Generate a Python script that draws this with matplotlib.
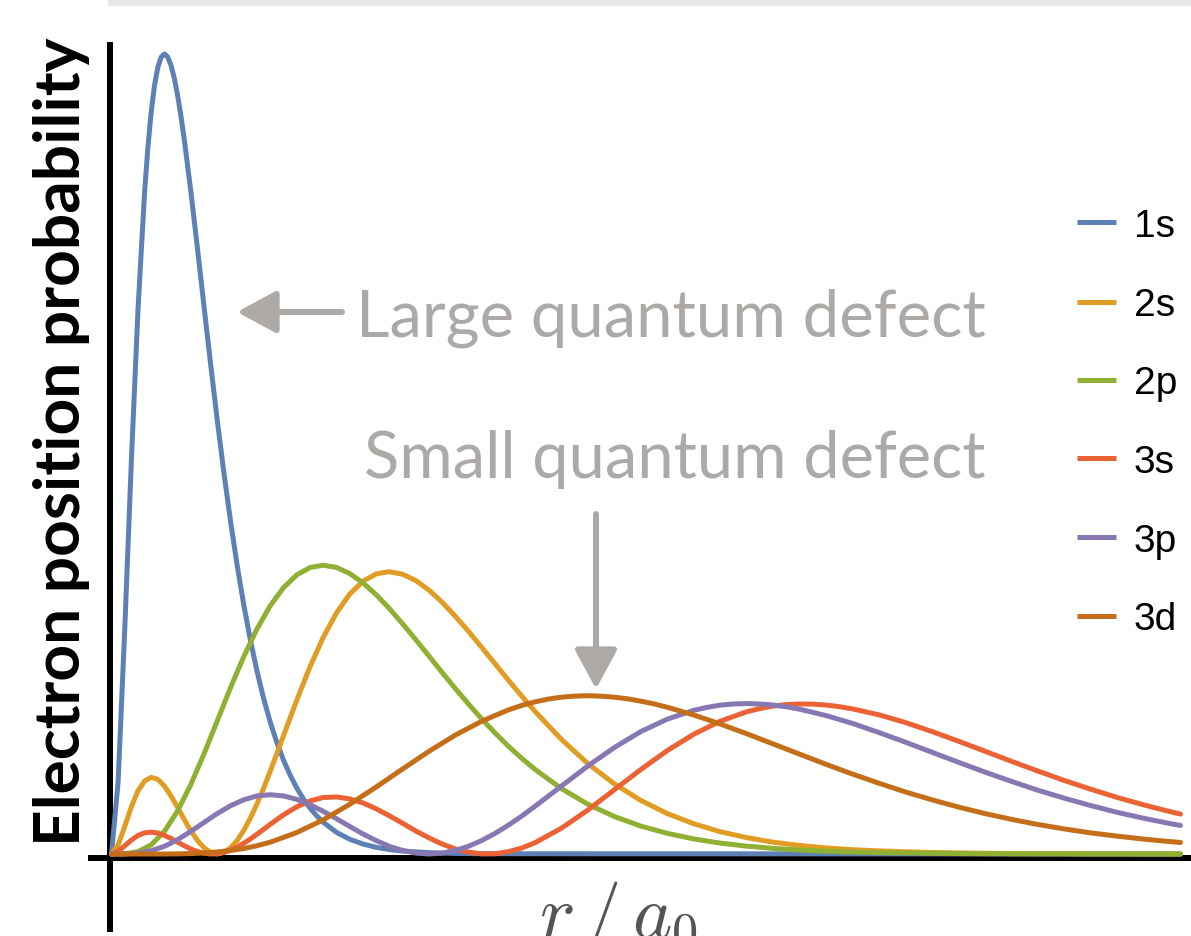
import matplotlib
matplotlib.use("Agg")
import matplotlib.pyplot as plt

# ---------------- data ----------------
labels = ["1s", "2s", "2p", "3s", "3p", "3d"]
colors = ["#5E81B5", "#E19C24", "#8FB032", "#EB6235", "#8778B3", "#C56E1A"]

r_1s = [0, 0.125, 0.25, 0.375, 0.5, 0.625, 0.6875, 0.75, 0.8125, 0.875, 0.9375,
        1.0, 1.0625, 1.125, 1.1875, 1.25, 1.3125, 1.375, 1.5, 1.625, 1.75, 1.875,
        2.0, 2.125, 2.25, 2.375, 2.5, 2.625, 2.75, 2.875, 3.0, 3.125, 3.25, 3.375,
        3.5, 3.625, 3.75, 3.875, 4.0, 4.25, 4.5, 4.75, 5.0, 5.25, 5.5, 6.0, 6.5,
        7.0, 20.2]
p_1s = [0, 0.0487, 0.1516, 0.2657, 0.3679, 0.4477, 0.4780, 0.5020, 0.5200, 0.5322,
        0.5391, 0.5413, 0.5393, 0.5336, 0.5247, 0.5131, 0.4992, 0.4835, 0.4481,
        0.4095, 0.3700, 0.3308, 0.2931, 0.2576, 0.2250, 0.1952, 0.1684, 0.1447,
        0.1236, 0.1052, 0.0892, 0.0754, 0.0635, 0.0534, 0.0447, 0.0373, 0.0311,
        0.0259, 0.0215, 0.0147, 0.0100, 0.0068, 0.0045, 0.0030, 0.0020, 0.0009,
        0.0004, 0.0002, 0.0]

r_2s = [0, 0.125, 0.25, 0.375, 0.5, 0.625, 0.75, 0.875, 1.0, 1.125, 1.25, 1.375,
        1.5, 1.625, 1.75, 1.875, 2.0, 2.125, 2.25, 2.375, 2.5, 2.625, 2.75, 2.875,
        3.0, 3.25, 3.5, 3.75, 4.0, 4.25, 4.5, 4.75, 5.0, 5.25, 5.5, 5.75, 6.0,
        6.25, 6.5, 6.75, 7.0, 7.25, 7.5, 7.75, 8.0, 8.5, 9.0, 9.5, 10.0, 10.5,
        11.0, 11.5, 12.0, 12.5, 13.0, 13.5, 14.0, 14.5, 15.0, 15.5, 16.0, 16.5,
        17.0, 17.5, 18.0, 18.5, 19.0, 19.5, 20.0, 20.2]
p_2s = [0, 0.0061, 0.0186, 0.0319, 0.0427, 0.0494, 0.0519, 0.0505, 0.0460, 0.0393,
        0.0315, 0.0233, 0.0157, 0.0091, 0.0042, 0.0011, 0.0, 0.0011, 0.0042, 0.0092,
        0.0160, 0.0244, 0.0340, 0.0446, 0.0560, 0.0800, 0.1040, 0.1266, 0.1465,
        0.1630, 0.1758, 0.1845, 0.1895, 0.1910, 0.1893, 0.1850, 0.1785, 0.1703,
        0.1607, 0.1505, 0.1396, 0.1286, 0.1176, 0.1069, 0.0966, 0.0776, 0.0612,
        0.0475, 0.0363, 0.0274, 0.0205, 0.0151, 0.0111, 0.0080, 0.0058, 0.0041,
        0.0029, 0.0021, 0.0015, 0.0010, 0.0007, 0.0005, 0.0003, 0.0002, 0.0002,
        0.0001, 0.0001, 0.0, 0.0, 0.0]

r_2p = [0, 0.25, 0.5, 0.75, 1.0, 1.25, 1.5, 1.75, 2.0, 2.25, 2.5, 2.75, 3.0,
        3.25, 3.5, 3.75, 4.0, 4.25, 4.5, 4.75, 5.0, 5.25, 5.5, 5.75, 6.0, 6.25,
        6.5, 6.75, 7.0, 7.25, 7.5, 7.75, 8.0, 8.5, 9.0, 9.5, 10.0, 10.5, 11.0,
        11.5, 12.0, 12.5, 13.0, 13.5, 14.0, 14.5, 15.0, 15.5, 16.0, 16.5, 17.0,
        17.5, 18.0, 18.5, 19.0, 19.5, 20.0, 20.2]
p_2p = [0, 0.0001, 0.0016, 0.0062, 0.0153, 0.0292, 0.0471, 0.0679, 0.0902, 0.1126,
        0.1336, 0.1523, 0.1680, 0.1802, 0.1888, 0.1938, 0.1954, 0.1939, 0.1898,
        0.1835, 0.1755, 0.1661, 0.1558, 0.1450, 0.1339, 0.1227, 0.1118, 0.1013,
        0.0912, 0.0818, 0.0729, 0.0648, 0.0573, 0.0443, 0.0337, 0.0254, 0.0189,
        0.0140, 0.0102, 0.0074, 0.0053, 0.0038, 0.0027, 0.0019, 0.0013, 0.0009,
        0.0007, 0.0005, 0.0003, 0.0002, 0.0001, 0.0001, 0.0001, 0.0, 0.0, 0.0,
        0.0, 0.0]

r_3s = [0, 0.125, 0.25, 0.375, 0.5, 0.625, 0.75, 0.875, 1.0, 1.125, 1.25, 1.375,
        1.5, 1.625, 1.75, 1.875, 2.0, 2.125, 2.25, 2.375, 2.5, 2.625, 2.75, 2.875,
        3.0, 3.25, 3.5, 3.75, 4.0, 4.25, 4.5, 4.75, 5.0, 5.25, 5.5, 5.75, 6.0,
        6.25, 6.5, 6.75, 7.0, 7.25, 7.5, 7.75, 8.0, 8.5, 9.0, 9.5, 10.0, 10.5,
        11.0, 11.5, 12.0, 12.25, 12.5, 12.75, 13.0, 13.25, 13.5, 13.75, 14.0, 14.5,
        15.0, 15.5, 16.0, 16.5, 17.0, 17.5, 18.0, 18.5, 19.0, 19.5, 20.0, 20.2]
p_3s = [0, 0.0018, 0.0055, 0.0094, 0.0125, 0.0143, 0.0148, 0.0142, 0.0126, 0.0105,
        0.0080, 0.0056, 0.0034, 0.0017, 0.0005, 0.0000, 0.0002, 0.0011, 0.0026,
        0.0047, 0.0073, 0.0102, 0.0134, 0.0167, 0.0201, 0.0265, 0.0319, 0.0359,
        0.0382, 0.0386, 0.0373, 0.0346, 0.0306, 0.0259, 0.0208, 0.0156, 0.0109,
        0.0067, 0.0034, 0.0012, 0.0001, 0.0002, 0.0016, 0.0040, 0.0076, 0.0174,
        0.0297, 0.0434, 0.0571, 0.0699, 0.0810, 0.0898, 0.0962, 0.0984, 0.1001,
        0.1011, 0.1015, 0.1014, 0.1008, 0.0997, 0.0982, 0.0942, 0.0890, 0.0829,
        0.0764, 0.0696, 0.0628, 0.0562, 0.0498, 0.0439, 0.0383, 0.0333, 0.0287,
        0.0270]

r_3p = [0, 0.25, 0.5, 0.75, 1.0, 1.25, 1.5, 1.75, 2.0, 2.25, 2.5, 2.75, 3.0,
        3.25, 3.5, 3.75, 4.0, 4.25, 4.5, 4.75, 5.0, 5.25, 5.5, 5.75, 6.0, 6.25,
        6.5, 6.75, 7.0, 7.25, 7.5, 7.75, 8.0, 8.5, 9.0, 9.5, 10.0, 10.5, 11.0,
        11.25, 11.5, 11.75, 12.0, 12.25, 12.5, 12.75, 13.0, 13.5, 14.0, 14.5,
        15.0, 15.5, 16.0, 16.5, 17.0, 17.5, 18.0, 18.5, 19.0, 19.5, 20.0, 20.2]
p_3p = [0, 0.0000, 0.0006, 0.0022, 0.0052, 0.0097, 0.0153, 0.0214, 0.0274, 0.0327,
        0.0367, 0.0393, 0.0401, 0.0393, 0.0370, 0.0334, 0.0289, 0.0239, 0.0187,
        0.0136, 0.0091, 0.0052, 0.0024, 0.0006, 0.0, 0.0006, 0.0024, 0.0053,
        0.0092, 0.0140, 0.0195, 0.0256, 0.0322, 0.0459, 0.0595, 0.0720, 0.0828,
        0.0912, 0.0972, 0.0992, 0.1007, 0.1015, 0.1018, 0.1015, 0.1008, 0.0996,
        0.0980, 0.0937, 0.0884, 0.0822, 0.0757, 0.0689, 0.0621, 0.0555, 0.0492,
        0.0432, 0.0378, 0.0328, 0.0282, 0.0242, 0.0206, 0.0193]

r_3d = [0, 0.25, 0.5, 0.75, 1.0, 1.25, 1.5, 1.75, 2.0, 2.25, 2.5, 2.75, 3.0,
        3.5, 4.0, 4.5, 5.0, 5.5, 6.0, 6.5, 7.0, 7.5, 7.75, 8.0, 8.25, 8.5, 8.75,
        9.0, 9.25, 9.5, 9.75, 10.0, 10.25, 10.5, 11.0, 11.5, 12.0, 12.5, 13.0,
        13.5, 14.0, 14.5, 15.0, 15.5, 16.0, 16.5, 17.0, 17.5, 18.0, 18.5, 19.0,
        19.5, 20.0, 20.2]
p_3d = [0, 0, 0, 0.0000, 0.0000, 0.0001, 0.0003, 0.0007, 0.0014, 0.0024, 0.0037,
        0.0056, 0.0080, 0.0145, 0.0231, 0.0336, 0.0453, 0.0575, 0.0695, 0.0805,
        0.0899, 0.0975, 0.1005, 0.1029, 0.1048, 0.1061, 0.1068, 0.1071, 0.1068,
        0.1061, 0.1050, 0.1034, 0.1016, 0.0993, 0.0941, 0.0880, 0.0814, 0.0745,
        0.0676, 0.0607, 0.0541, 0.0479, 0.0420, 0.0367, 0.0318, 0.0274, 0.0235,
        0.0200, 0.0170, 0.0143, 0.0121, 0.0101, 0.0084, 0.0078]

series = [(r_1s, p_1s), (r_2s, p_2s), (r_2p, p_2p),
          (r_3s, p_3s), (r_3p, p_3p), (r_3d, p_3d)]

ylabel_text = "Electron position probability"
xlabel_text = r"$r\,/\,a_0$"
note_large = "Large quantum defect"
note_small = "Small quantum defect"

# ---------------- layout ----------------
plt.rcParams["mathtext.fontset"] = "cm"
W, H = 1191, 937
fig = plt.figure(figsize=(W / 100, H / 100), dpi=100)
ax = fig.add_axes([0, 0, 1, 1])
ax.axis("off")

X0, SX, Y0, SY = 111.5, 52.92, 855.0, 1478.0   # pixel frame of the plot


def dx(px):
    return (px - X0) / SX


def dy(py):
    return (Y0 - py) / SY


ax.set_xlim(dx(0), dx(W))
ax.set_ylim(dy(H), dy(0))

GRAY = "#ACA9A7"
PT = 0.72  # points per pixel at dpi 100

# faint bar at the top
ax.fill_between([dx(108), dx(W)], dy(7), dy(0), color="#E7E7E7", lw=0)

# axis lines
ax.plot([dx(110), dx(110)], [dy(43), dy(933)], color="black", lw=6 * PT,
        solid_capstyle="butt", zorder=1)
ax.plot([dx(88), dx(W)], [dy(859), dy(859)], color="black", lw=6 * PT,
        solid_capstyle="butt", zorder=1)

# curves
for (r, p), c in zip(series, colors):
    ax.plot(r, p, color=c, lw=5 * PT, solid_joinstyle="round",
            solid_capstyle="round", zorder=3)

# legend
leg_y = [223, 303, 381, 459, 538, 617]
for lab, c, yy in zip(labels, colors, leg_y):
    ax.plot([dx(1077), dx(1116)], [dy(yy), dy(yy)], color=c, lw=5 * PT,
            solid_capstyle="butt")
    ax.text(dx(1134), dy(yy + 13.5), lab, fontsize=28, color="black",
            family=["Liberation Sans", "DejaVu Sans"], ha="left", va="baseline")

fig.canvas.draw()
renderer = fig.canvas.get_renderer()


def fit(txt, target, use_height=False):
    bb = txt.get_window_extent(renderer)
    cur = bb.height if use_height else bb.width
    txt.set_fontsize(txt.get_fontsize() * target / cur)


# annotations
t1 = ax.text(dx(986), dy(336), note_large, ha="right", va="baseline",
             color=GRAY, family=["Lato", "DejaVu Sans"], fontsize=44)
t2 = ax.text(dx(986), dy(478), note_small, ha="right", va="baseline",
             color=GRAY, family=["Lato", "DejaVu Sans"], fontsize=44)
fit(t1, 630)
fit(t2, 622)

arrow_style = dict(arrowstyle="-|>,head_length=1.2,head_width=0.65",
                   color=GRAY, lw=6 * PT, mutation_scale=20,
                   shrinkA=0, shrinkB=0)
ax.annotate("", xy=(dx(237), dy(313)), xytext=(dx(342), dy(313)),
            arrowprops=arrow_style)
ax.annotate("", xy=(dx(596), dy(690)), xytext=(dx(596), dy(515)),
            arrowprops=arrow_style)

# axis titles
ty = ax.text(dx(80), dy(442), ylabel_text, rotation=90, rotation_mode="anchor",
             ha="center", va="baseline", color="black",
             family=["Lato", "DejaVu Sans"], weight="bold", fontsize=40)
fit(ty, 807, use_height=True)

ax.text(dx(618), dy(937), xlabel_text, ha="center", va="baseline",
        color="#555555", fontsize=54)

fig.savefig("out.png", dpi=100)
